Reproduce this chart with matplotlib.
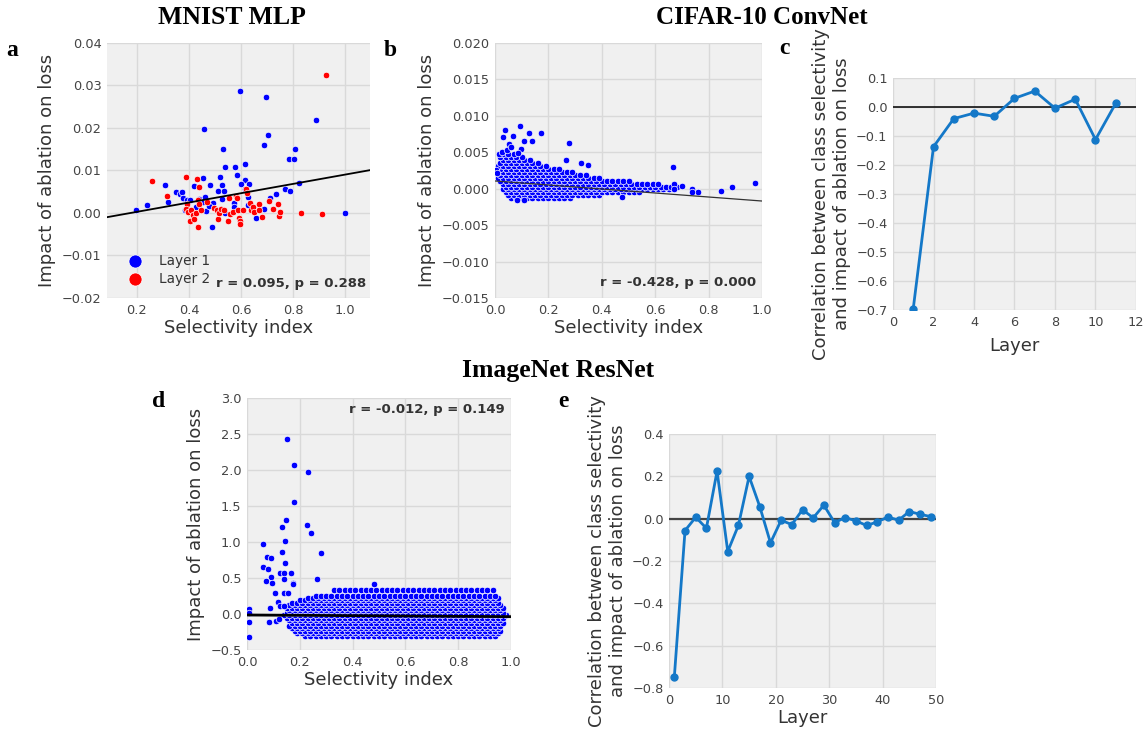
import numpy as np
import matplotlib
matplotlib.use("Agg")
import matplotlib.pyplot as plt

plt.rcParams['font.family'] = ['DejaVu Sans']

# ---- panel a: MNIST MLP (selectivity, impact) ----
a_l1_x = [0.595, 0.695, 0.888, 0.456, 0.705, 0.688, 0.531, 0.808, 0.785, 0.803,
          0.615, 0.540, 0.576, 0.585, 0.518, 0.617, 0.453, 0.197, 0.238, 0.307,
          0.320, 0.350, 0.365, 0.374, 0.377, 0.392, 0.405, 0.418, 0.428, 0.440,
          0.454, 0.460, 0.464, 0.480, 0.492, 0.477, 0.510, 0.527, 0.536, 0.526,
          0.487, 0.574, 0.573, 0.599, 0.632, 0.614, 0.628, 0.627, 0.687, 0.659,
          0.710, 0.733, 0.769, 0.787, 0.823, 0.999, 0.540, 0.383]
a_l1_y = [0.0286, 0.0274, 0.0218, 0.0198, 0.0184, 0.0160, 0.0151, 0.0150, 0.0126, 0.0126,
          0.0115, 0.0108, 0.0108, 0.0089, 0.0085, 0.0077, 0.0083, 0.0007, 0.0018, 0.0065,
          0.0026, 0.0049, 0.0044, 0.0049, 0.0035, 0.0031, 0.0031, 0.0064, 0.0013, 0.0033,
          0.0025, 0.0038, 0.0005, 0.0065, 0.0023, 0.0017, 0.0052, 0.0066, 0.0052, 0.0032,
          -0.0034, 0.0023, 0.0014, 0.0069, 0.0068, 0.0056, 0.0038, 0.0019, 0.0009, -0.0011,
          0.0036, 0.0045, 0.0057, 0.0052, 0.0070, -0.0001, 0.0001, 0.0007]
a_l2_x = [0.928, 0.388, 0.431, 0.258, 0.315, 0.438, 0.393, 0.388, 0.397, 0.408,
          0.414, 0.405, 0.420, 0.426, 0.436, 0.433, 0.440, 0.447, 0.469, 0.497,
          0.508, 0.512, 0.517, 0.524, 0.535, 0.548, 0.553, 0.558, 0.569, 0.579,
          0.586, 0.587, 0.592, 0.596, 0.597, 0.607, 0.620, 0.623, 0.636, 0.638,
          0.646, 0.650, 0.669, 0.670, 0.682, 0.708, 0.722, 0.742, 0.746, 0.750,
          0.830, 0.909]
a_l2_y = [0.0325, 0.0085, 0.0081, 0.0075, 0.0039, 0.0062, 0.0022, 0.0010, 0.0002, 0.0007,
          -0.0005, -0.0018, -0.0013, 0.0000, -0.0032, 0.0031, 0.0020, 0.0007, 0.0027, 0.0012,
          0.0007, -0.0015, 0.0000, 0.0009, 0.0007, -0.0018, 0.0036, -0.0002, 0.0002, 0.0041,
          0.0035, 0.0007, -0.0011, -0.0018, -0.0026, 0.0007, 0.0056, 0.0046, 0.0024, 0.0007,
          0.0015, 0.0002, 0.0020, 0.0007, -0.0009, 0.0028, 0.0010, 0.0020, -0.0007, 0.0002,
          -0.0001, -0.0002]
a_fit = (0.01096, -0.00192)   # slope, intercept of drawn regression line

# ---- panel b: CIFAR-10 ConvNet ----
b_out_x = [0.094, 0.039, 0.126, 0.171, 0.029, 0.067, 0.110, 0.140, 0.277, 0.052,
           0.015, 0.027, 0.099, 0.323, 0.350, 0.267, 0.665, 0.975, 0.888, 0.846,
           0.761, 0.737, 0.737, 0.699, 0.672, 0.672, 0.110, 0.081, 0.477, 0.005,
           0.008, 0.045, 0.060, 0.085]
b_out_y = [0.0086, 0.0081, 0.0077, 0.0076, 0.0071, 0.0072, 0.0066, 0.0065, 0.0063, 0.0061,
           0.0047, 0.0051, 0.0055, 0.0035, 0.0033, 0.0039, 0.0030, 0.0008, 0.0003, -0.0003,
           -0.0004, 0.0000, -0.0004, 0.0004, 0.0006, 0.0000, -0.0016, -0.0015, -0.0012, 0.0025,
           0.0021, 0.0053, 0.0057, 0.0049]
# dense cloud: rows of points (y) with the x-range each row covers
b_row_y = [-0.0013, -0.0009, -0.0005, -0.0001, 0.0003, 0.0007, 0.0011, 0.0015,
           0.0019, 0.0023, 0.0027, 0.0031, 0.0035, 0.0039, 0.0043, 0.0047]
b_row_x0 = [0.06, 0.04, 0.04, 0.03, 0.03, 0.02, 0.01, 0.01,
            0.01, 0.01, 0.01, 0.01, 0.01, 0.02, 0.02, 0.03]
b_row_x1 = [0.28, 0.40, 0.55, 0.66, 0.68, 0.62, 0.50, 0.40,
            0.34, 0.30, 0.25, 0.20, 0.16, 0.13, 0.10, 0.07]
b_cols_even = [0.00, 0.02, 0.04, 0.06, 0.08, 0.10, 0.12, 0.14, 0.16, 0.18, 0.20, 0.22,
               0.24, 0.26, 0.28, 0.30, 0.32, 0.34, 0.36, 0.38, 0.40, 0.42, 0.44, 0.46,
               0.48, 0.50, 0.52, 0.54, 0.56, 0.58, 0.60, 0.62, 0.64, 0.66, 0.68]
b_cols_odd = [0.01, 0.03, 0.05, 0.07, 0.09, 0.11, 0.13, 0.15, 0.17, 0.19, 0.21, 0.23,
              0.25, 0.27, 0.29, 0.31, 0.33, 0.35, 0.37, 0.39, 0.41, 0.43, 0.45, 0.47,
              0.49, 0.51, 0.53, 0.55, 0.57, 0.59, 0.61, 0.63, 0.65, 0.67, 0.69]
b_fit = (-0.00275, 0.00106)

# ---- panel c: CIFAR-10 per-layer correlation ----
c_layer = [1, 2, 3, 4, 5, 6, 7, 8, 9, 10, 11]
c_corr = [-0.695, -0.137, -0.040, -0.021, -0.032, 0.030, 0.055, -0.004, 0.027, -0.112, 0.013]

# ---- panel d: ImageNet ResNet ----
d_out_x = [0.152, 0.179, 0.231, 0.177, 0.148, 0.134, 0.227, 0.242, 0.145, 0.061,
           0.131, 0.279, 0.075, 0.090, 0.145, 0.061, 0.078, 0.124, 0.140, 0.166,
           0.092, 0.139, 0.073, 0.095, 0.265, 0.174, 0.174, 0.105, 0.139, 0.155,
           0.116, 0.083, 0.088, 0.124, 0.139, 0.108, 0.122, 0.006, 0.006, 0.006,
           0.006, 0.481]
d_out_y = [2.426, 2.065, 1.968, 1.551, 1.300, 1.204, 1.240, 1.120, 1.010, 0.972,
           0.857, 0.847, 0.792, 0.774, 0.704, 0.648, 0.620, 0.570, 0.570, 0.570,
           0.510, 0.490, 0.455, 0.435, 0.486, 0.435, 0.410, 0.296, 0.296, 0.296,
           0.170, -0.115, 0.080, 0.115, 0.115, -0.100, -0.070, 0.070, 0.010, -0.110,
           -0.320, 0.420]
d_row_y = [-0.30, -0.265, -0.23, -0.195, -0.16, -0.125, -0.09, -0.055, -0.02,
           0.015, 0.05, 0.085, 0.12, 0.155, 0.19, 0.225, 0.25, 0.33]
d_row_x0 = [0.21, 0.19, 0.18, 0.17, 0.16, 0.16, 0.15, 0.15, 0.14,
            0.14, 0.15, 0.15, 0.16, 0.17, 0.19, 0.22, 0.26, 0.33]
d_row_x1 = [0.95, 0.95, 0.96, 0.96, 0.96, 0.97, 0.97, 0.97, 0.98,
            0.98, 0.97, 0.97, 0.96, 0.96, 0.95, 0.95, 0.94, 0.93]
d_cols_even = [0.14, 0.16, 0.18, 0.20, 0.22, 0.24, 0.26, 0.28, 0.30, 0.32, 0.34, 0.36,
               0.38, 0.40, 0.42, 0.44, 0.46, 0.48, 0.50, 0.52, 0.54, 0.56, 0.58, 0.60,
               0.62, 0.64, 0.66, 0.68, 0.70, 0.72, 0.74, 0.76, 0.78, 0.80, 0.82, 0.84,
               0.86, 0.88, 0.90, 0.92, 0.94, 0.96, 0.98]
d_cols_odd = [0.15, 0.17, 0.19, 0.21, 0.23, 0.25, 0.27, 0.29, 0.31, 0.33, 0.35, 0.37,
              0.39, 0.41, 0.43, 0.45, 0.47, 0.49, 0.51, 0.53, 0.55, 0.57, 0.59, 0.61,
              0.63, 0.65, 0.67, 0.69, 0.71, 0.73, 0.75, 0.77, 0.79, 0.81, 0.83, 0.85,
              0.87, 0.89, 0.91, 0.93, 0.95, 0.97]
d_fit = (-0.023, -0.014)

# ---- panel e: ImageNet per-layer correlation ----
e_layer = [1, 3, 5, 7, 9, 11, 13, 15, 17, 19, 21, 23, 25, 27, 29, 31, 33, 35, 37, 39,
           41, 43, 45, 47, 49]
e_corr = [-0.746, -0.056, 0.007, -0.045, 0.225, -0.155, -0.031, 0.200, 0.057, -0.114,
          -0.007, -0.028, 0.043, 0.004, 0.064, -0.018, 0.005, -0.010, -0.032, -0.015,
          0.008, -0.007, 0.034, 0.021, 0.010]


def cloud(row_y, row_x0, row_x1, cols_even, cols_odd):
    xs, ys = [], []
    for i, y in enumerate(row_y):
        cols = cols_even if i % 2 == 0 else cols_odd
        for x in cols:
            if row_x0[i] <= x <= row_x1[i]:
                xs.append(x)
                ys.append(y)
    return xs, ys


def style(ax):
    ax.set_facecolor('#f0f0f0')
    ax.grid(True, color='#d9d9d9', lw=1)
    ax.set_axisbelow(True)
    for s in ax.spines.values():
        s.set_visible(False)
    ax.tick_params(length=0, labelsize=9.3, colors='#444444', pad=4)


BLUE = '#0000ff'
LINE = '#1478c8'
LAB = dict(fontsize=13, color='#333333')
pt = dict(s=22, edgecolor='white', linewidths=0.5, zorder=3)

fig = plt.figure(figsize=(11.44, 7.3), dpi=100)

# a
ax = fig.add_axes([0.0935, 0.5918, 0.2299, 0.3493])
style(ax)
ax.scatter(a_l1_x, a_l1_y, color=BLUE, label='Layer 1', **pt)
ax.scatter(a_l2_x, a_l2_y, color='#ff0000', label='Layer 2', **pt)
ax.set_xlim(0.085, 1.095)
ax.set_ylim(-0.02, 0.04)
xs = np.array(ax.get_xlim())
ax.plot(xs, a_fit[0] * xs + a_fit[1], color='black', lw=1.3, zorder=4)
ax.set_xticks([0.2, 0.4, 0.6, 0.8, 1.0])
ax.set_yticks([-0.02, -0.01, 0.0, 0.01, 0.02, 0.03, 0.04])
ax.set_xlabel('Selectivity index', labelpad=2, **LAB)
ax.set_ylabel('Impact of ablation on loss', **LAB)
ax.legend(loc='lower left', bbox_to_anchor=(0.01, 0.0), frameon=False, markerscale=2.0,
          fontsize=9.8, labelcolor='#333333', handletextpad=0.7, labelspacing=0.3)
ax.text(0.985, 0.03, 'r = 0.095, p = 0.288', transform=ax.transAxes, ha='right', va='bottom',
        fontsize=9.5, fontweight='bold', color='#333333')

# b
ax = fig.add_axes([0.4327, 0.5918, 0.2334, 0.3493])
style(ax)
cx, cy = cloud(b_row_y, b_row_x0, b_row_x1, b_cols_even, b_cols_odd)
ax.scatter(cx, cy, color=BLUE, **pt)
ax.scatter(b_out_x, b_out_y, color=BLUE, **pt)
ax.set_xlim(0, 1)
ax.set_ylim(-0.015, 0.020)
xs = np.array(ax.get_xlim())
ax.plot(xs, b_fit[0] * xs + b_fit[1], color='#333333', lw=0.9, zorder=4)
ax.set_xticks([0.0, 0.2, 0.4, 0.6, 0.8, 1.0])
ax.set_yticks([-0.015, -0.010, -0.005, 0.0, 0.005, 0.010, 0.015, 0.020])
ax.set_yticklabels(['\u22120.015', '\u22120.010', '\u22120.005', '0.000', '0.005', '0.010', '0.015', '0.020'])
ax.set_xlabel('Selectivity index', labelpad=2, **LAB)
ax.set_ylabel('Impact of ablation on loss', **LAB)
ax.text(0.978, 0.035, 'r = -0.428, p = 0.000', transform=ax.transAxes, ha='right', va='bottom',
        fontsize=9.5, fontweight='bold', color='#333333')

# c
ax = fig.add_axes([0.7806, 0.5753, 0.2124, 0.3178])
style(ax)
ax.axhline(0, color='black', lw=1.1, zorder=2)
ax.plot(c_layer, c_corr, color=LINE, lw=2, marker='o', ms=5, zorder=3)
ax.set_xlim(0, 12)
ax.set_ylim(-0.7, 0.1)
ax.set_xticks([0, 2, 4, 6, 8, 10, 12])
ax.set_yticks([-0.7, -0.6, -0.5, -0.4, -0.3, -0.2, -0.1, 0.0, 0.1])
ax.set_xlabel('Layer', labelpad=6, **LAB)
ax.set_ylabel('Correlation between class selectivity\nand impact of ablation on loss', **LAB)

# d
ax = fig.add_axes([0.2159, 0.1096, 0.2308, 0.3452])
style(ax)
cx, cy = cloud(d_row_y, d_row_x0, d_row_x1, d_cols_even, d_cols_odd)
ax.scatter(cx, cy, color=BLUE, **pt)
ax.scatter(d_out_x, d_out_y, color=BLUE, **pt)
ax.set_xlim(0, 1)
ax.set_ylim(-0.5, 3.0)
xs = np.array(ax.get_xlim())
ax.plot(xs, d_fit[0] * xs + d_fit[1], color='black', lw=2, zorder=4)
ax.set_xticks([0.0, 0.2, 0.4, 0.6, 0.8, 1.0])
ax.set_yticks([-0.5, 0.0, 0.5, 1.0, 1.5, 2.0, 2.5, 3.0])
ax.set_xlabel('Selectivity index', labelpad=2, **LAB)
ax.set_ylabel('Impact of ablation on loss', **LAB)
ax.text(0.977, 0.93, 'r = -0.012, p = 0.149', transform=ax.transAxes, ha='right', va='bottom',
        fontsize=9.5, fontweight='bold', color='#333333')

# e
ax = fig.add_axes([0.5848, 0.0575, 0.2334, 0.3479])
style(ax)
ax.axhline(0, color='#444444', lw=1.6, zorder=2)
ax.plot(e_layer, e_corr, color=LINE, lw=2, marker='o', ms=5, zorder=3)
ax.set_xlim(0, 50)
ax.set_ylim(-0.8, 0.4)
ax.set_xticks([0, 10, 20, 30, 40, 50])
ax.set_yticks([-0.8, -0.6, -0.4, -0.2, 0.0, 0.2, 0.4])
ax.set_xlabel('Layer', labelpad=2, **LAB)
ax.set_ylabel('Correlation between class selectivity\nand impact of ablation on loss', **LAB)

# titles and panel letters
serif = dict(family='Liberation Serif', fontweight='bold', color='black')
fig.text(232 / 1144, 1 - 18 / 730, 'MNIST MLP', ha='center', va='center', fontsize=18.5, **serif)
fig.text(762 / 1144, 1 - 18 / 730, 'CIFAR-10 ConvNet', ha='center', va='center', fontsize=18, **serif)
fig.text(558 / 1144, 1 - 370 / 730, 'ImageNet ResNet', ha='center', va='center', fontsize=18.5, **serif)
for letter, px, py in [('a', 12, 50), ('b', 390, 50), ('c', 784, 49), ('d', 159, 402), ('e', 563, 402)]:
    fig.text(px / 1144, 1 - py / 730, letter, ha='center', va='center', fontsize=17, **serif)

fig.savefig('out.png', dpi=100)
